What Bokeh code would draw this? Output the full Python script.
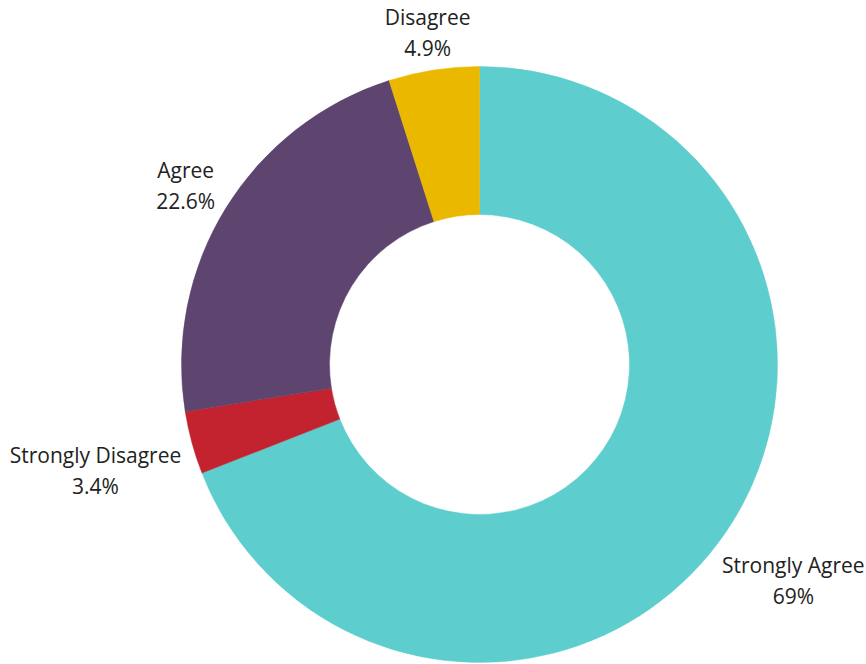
import math
from bokeh.plotting import figure
from bokeh.models import Range1d, ColumnDataSource
from bokeh.core.properties import value
from bokeh.embed import file_html
from bokeh.resources import INLINE

# Data (clockwise from 12 o'clock)
categories = ["Strongly Agree", "Strongly Disagree", "Agree", "Disagree"]
percents = [69.0, 3.4, 22.6, 4.9]
pct_labels = ["69%", "3.4%", "22.6%", "4.9%"]
colors = ["#5ECDCE", "#C3232E", "#5E4570", "#EBB800"]

# Layout
W, H = 866, 664
cx, cy = 479, 300
r_in, r_out = 150, 298
label_r = [380, 398, 345, 338]
line_gap = 31

total = sum(percents)
starts, ends, mids = [], [], []
a = math.pi / 2
for v in percents:
    span = v / total * 2 * math.pi
    starts.append(a)
    ends.append(a - span)
    mids.append(a - span / 2)
    a -= span

src = ColumnDataSource(dict(start=starts, end=ends, color=colors))

p = figure(width=W, height=H, x_range=Range1d(0, W), y_range=Range1d(0, H),
           output_backend="svg", toolbar_location=None, min_border=0)
p.axis.visible = False
p.grid.visible = False
p.outline_line_color = None
p.background_fill_color = "white"

p.annular_wedge(x=cx, y=cy, inner_radius=r_in, outer_radius=r_out,
                start_angle="start", end_angle="end", direction="clock",
                fill_color="color", line_color="color", line_width=0.5, source=src)

lx, ly1, ly2 = [], [], []
for m, r in zip(mids, label_r):
    x = cx + r * math.cos(m)
    yc = cy + r * math.sin(m)
    lx.append(x)
    ly1.append(yc + 14)
    ly2.append(yc + 14 - line_gap)

lsrc = ColumnDataSource(dict(x=lx, y1=ly1, y2=ly2, name=categories, pct=pct_labels))
common = dict(text_font=value("Open Sans"), text_font_size="21px",
              text_color="#222222", text_align="center", text_baseline="alphabetic")
p.text(x="x", y="y1", text="name", source=lsrc, **common)
p.text(x="x", y="y2", text="pct", source=lsrc, **common)

open("out.html", "w").write(file_html(p, INLINE))
